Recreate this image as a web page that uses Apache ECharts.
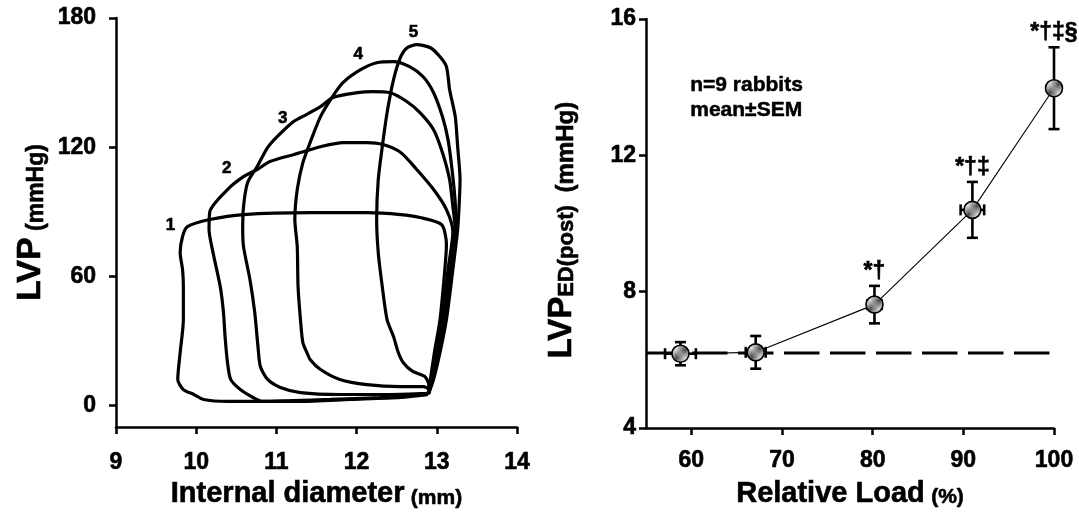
<!DOCTYPE html>
<html><head><meta charset="utf-8">
<script src="https://cdn.jsdelivr.net/npm/echarts@6/dist/echarts.min.js"></script>
<style>html,body{margin:0;padding:0;background:#fff}#c{width:1079px;height:521px}</style>
</head><body><div id="c"></div>
<script>
// ---- Left panel: pressure–diameter loops (x = internal diameter mm, y = LVP mmHg)
const loop1 = [[12.89,5.1],[12.92,12.1],[12.97,24.6],[13.04,39.9],[13.10,63.1],[13.12,74.7],[13.06,84.0],[12.79,87.3],[12.55,88.7],[12.13,89.6],[11.70,89.6],[11.42,89.6],[10.59,88.7],[10.17,86.4],[9.89,83.1],[9.83,78.5],[9.80,71.0],[9.83,63.1],[9.84,55.2],[9.84,39.9],[9.80,24.6],[9.77,12.1],[9.84,7.4],[9.97,5.1],[10.09,2.8],[10.39,1.9],[10.80,1.9],[11.21,2.3],[11.67,2.8],[12.29,3.7],[12.89,5.1]];
const loop2 = [[12.89,5.1],[12.93,12.1],[12.99,24.6],[13.06,39.9],[13.14,63.1],[13.20,80.8],[13.12,91.0],[12.96,100.3],[12.75,109.6],[12.55,117.5],[12.33,121.2],[12.13,122.1],[11.83,122.1],[11.55,120.2],[11.30,117.5],[11.21,116.5],[10.92,113.3],[10.76,109.6],[10.59,106.3],[10.39,100.3],[10.17,90.1],[10.16,81.7],[10.21,71.0],[10.30,55.2],[10.34,43.2],[10.36,32.0],[10.39,20.0],[10.43,12.1],[10.55,7.4],[10.71,3.7],[10.83,1.9],[11.30,1.9],[11.92,2.8],[12.55,3.7],[12.89,5.1]];
const loop3 = [[12.89,5.6],[12.94,12.1],[13.00,24.6],[13.09,39.9],[13.16,63.1],[13.23,81.7],[13.20,92.4],[13.16,104.9],[13.07,117.5],[12.96,128.1],[12.79,136.0],[12.63,141.1],[12.42,145.3],[12.20,145.8],[12.01,145.3],[11.70,143.0],[11.55,138.8],[11.30,133.7],[11.21,131.8],[11.01,124.9],[10.89,119.8],[10.76,111.0],[10.64,103.5],[10.59,92.4],[10.58,81.7],[10.59,73.8],[10.67,58.5],[10.73,43.2],[10.77,27.4],[10.80,18.1],[10.89,12.1],[11.05,8.4],[11.30,6.0],[11.79,5.1],[12.42,5.1],[12.89,5.6]];
const loop4 = [[12.90,5.6],[12.94,12.1],[13.01,24.6],[13.10,39.9],[13.17,63.1],[13.24,81.7],[13.23,94.2],[13.19,109.6],[13.14,123.5],[13.07,134.2],[12.96,145.3],[12.83,152.7],[12.66,157.4],[12.46,159.7],[12.25,159.2],[12.05,156.0],[11.83,150.0],[11.70,143.5],[11.55,134.2],[11.42,122.1],[11.33,112.8],[11.26,100.3],[11.23,86.4],[11.26,73.8],[11.27,55.2],[11.30,39.9],[11.33,29.2],[11.38,24.6],[11.42,21.4],[11.55,16.7],[11.79,12.1],[12.13,9.7],[12.55,8.8],[12.83,8.8],[12.90,7.4],[12.90,5.6]];
const loop5 = [[12.90,5.6],[12.96,12.1],[13.04,24.6],[13.12,39.9],[13.20,63.1],[13.26,81.7],[13.28,94.2],[13.29,104.9],[13.26,120.2],[13.23,134.2],[13.16,146.7],[13.12,157.4],[13.04,162.0],[12.92,166.2],[12.75,167.6],[12.63,166.2],[12.55,162.0],[12.46,151.3],[12.38,136.0],[12.32,120.2],[12.27,104.9],[12.25,86.4],[12.27,71.0],[12.32,55.2],[12.38,39.9],[12.46,32.0],[12.52,24.6],[12.58,20.0],[12.70,15.8],[12.85,13.5],[12.90,9.7],[12.90,5.6]];
const loopNames = ['1','2','3','4','5'];
const loopNameAnchors = [[9.68,83.6],[10.38,110.3],[11.08,133.2],[12.02,162.9],[12.71,173.2]];
const leftXTicks = [9,10,11,12,13,14];
const leftYTicks = [0,60,120,180];

// ---- Right panel: LVP ED(post) vs relative load
const relLoad     = [58.8, 67.1, 80.2, 91.0, 100.0];
const relLoadSem  = [1.7, 1.1, 0.8, 1.3, 0];
const lvpEd       = [6.18, 6.22, 7.62, 10.40, 13.97];
const lvpEdSem    = [0.34, 0.48, 0.55, 0.82, 1.20];
const sigMarks    = ['', '', '*†', '*†‡', '*†‡§'];
const baselineLvp = 6.2;
const baselineLoadRange = [55, 99.5];
const rightXTicks = [60,70,80,90,100];
const rightYTicks = [4,8,12,16];
const noteLines = ['n=9 rabbits', 'mean±SEM'];

const FF = '"Liberation Sans", Arial, Helvetica, sans-serif';
const HEAVY = {textBorderColor:'#000', textBorderWidth:0.6};

function hatchCanvas(){
  const c = document.createElement('canvas'); c.width = 4; c.height = 4;
  const g = c.getContext('2d');
  g.fillStyle = '#d8d8d8'; g.fillRect(0,0,4,4);
  g.strokeStyle = '#444'; g.lineWidth = 1;
  g.beginPath();
  g.moveTo(0,4); g.lineTo(4,0);
  g.moveTo(-1,1); g.lineTo(1,-1);
  g.moveTo(3,5); g.lineTo(5,3);
  g.stroke();
  return c;
}

const chart = echarts.init(document.getElementById('c'), null, {renderer:'canvas'});

const tickLabel = {color:'#000', fontFamily:FF, fontWeight:'bold', fontSize:23, ...HEAVY};
const axisLine = {show:true, onZero:false, lineStyle:{color:'#000', width:2.5}};
const axisTick = {show:true, length:7, lineStyle:{color:'#000', width:2.5}};
const nameStyleBase = {color:'#000', fontFamily:FF, fontWeight:'bold', fontSize:23};
function rs(size, lh){ return {fontSize:size, fontWeight:'bold', fontFamily:FF, color:'#000', lineHeight:lh, verticalAlign:'bottom', ...HEAVY}; }

const option = {
  animation:false,
  backgroundColor:'#fff',
  grid:[
    {left:116, top:18, width:401, height:409},
    {left:646, top:19, width:408, height:409}
  ],
  xAxis:[
    {gridIndex:0, type:'value', min:9, max:14, interval:1,
     axisLine, axisTick:{...axisTick, customValues:leftXTicks}, splitLine:{show:false},
     axisLabel:{...tickLabel, margin:24, customValues:leftXTicks},
     name:'{a|Internal diameter} {b|(mm)}', nameLocation:'middle', nameGap:46,
     nameTextStyle:{...nameStyleBase, rich:{a:rs(29,34), b:rs(21,28)}}},
    {gridIndex:1, type:'value', min:55, max:100,
     axisLine, axisTick:{...axisTick, customValues:rightXTicks}, splitLine:{show:false},
     axisLabel:{...tickLabel, margin:21, customValues:rightXTicks},
     name:'{a|Relative Load} {b|(%)}', nameLocation:'middle', nameGap:46,
     nameTextStyle:{...nameStyleBase, rich:{a:rs(29,34), b:rs(21,28)}}}
  ],
  yAxis:[
    {gridIndex:0, type:'value', min:-10, max:180,
     axisLine, axisTick:{...axisTick, customValues:leftYTicks}, splitLine:{show:false},
     axisLabel:{...tickLabel, margin:20, customValues:leftYTicks},
     name:'{a|LVP} {b|(mmHg)}', nameLocation:'middle', nameGap:68,
     nameTextStyle:{...nameStyleBase, rich:{a:rs(34,40), b:rs(23,34)}}},
    {gridIndex:1, type:'value', min:4, max:16, interval:4,
     axisLine, axisTick, splitLine:{show:false},
     axisLabel:{...tickLabel, margin:10},
     name:'{a|LVP}{s|ED(post)}  {b|(mmHg)}{b|  }', nameLocation:'middle', nameGap:68,
     nameTextStyle:{...nameStyleBase, rich:{a:rs(33,40), s:rs(22,22), b:rs(24,34)}}}
  ],
  graphic: noteLines.map((t,i)=>({
    type:'text', left:690, top:74 + i*25,
    style:{text:t, fill:'#000', font:'bold 21px ' + FF, stroke:'#000', lineWidth:0.5}
  })),
  series:[]
};

const loops = [loop1, loop2, loop3, loop4, loop5];
loops.forEach((d,i)=>{
  option.series.push({
    type:'line', xAxisIndex:0, yAxisIndex:0, data:d, showSymbol:false, smooth:0.25,
    lineStyle:{color:'#000', width:3.2}, z:2, silent:true
  });
});
option.series.push({
  type:'scatter', xAxisIndex:0, yAxisIndex:0, symbolSize:0, silent:true, z:4,
  itemStyle:{opacity:1},
  data: loopNameAnchors.map((p,i)=>({value:p, name:loopNames[i]})),
  label:{show:true, position:'inside', formatter:p=>p.name, color:'#000', fontFamily:FF, fontWeight:'bold', fontSize:17, ...HEAVY}
});

// right panel
option.series.push({
  type:'line', xAxisIndex:1, yAxisIndex:1, showSymbol:false, silent:true, z:1,
  data: baselineLoadRange.map(x=>[x, baselineLvp]),
  lineStyle:{color:'#000', width:3, type:[35.5,10.5], dashOffset:0}
});
option.series.push({
  type:'line', xAxisIndex:1, yAxisIndex:1, showSymbol:false, silent:true, z:2,
  data: relLoad.map((x,i)=>[x, lvpEd[i]]),
  lineStyle:{color:'#000', width:1.1}
});
option.series.push({
  type:'custom', xAxisIndex:1, yAxisIndex:1, silent:true, z:3,
  data: relLoad.map((x,i)=>[x, lvpEd[i], relLoadSem[i], lvpEdSem[i]]),
  renderItem:(params, api)=>{
    const x=api.value(0), y=api.value(1), sx=api.value(2), sy=api.value(3);
    const c=api.coord([x,y]);
    const st={stroke:'#000', lineWidth:2.6};
    const ch=[];
    const cap=5.5;
    if(sy>0){
      const t=api.coord([x,y+sy]), b=api.coord([x,y-sy]);
      ch.push({type:'line', shape:{x1:c[0],y1:t[1],x2:c[0],y2:b[1]}, style:st});
      ch.push({type:'line', shape:{x1:c[0]-cap,y1:t[1],x2:c[0]+cap,y2:t[1]}, style:st});
      ch.push({type:'line', shape:{x1:c[0]-cap,y1:b[1],x2:c[0]+cap,y2:b[1]}, style:st});
    }
    if(sx>0){
      const l=api.coord([x-sx,y]), r=api.coord([x+sx,y]);
      ch.push({type:'line', shape:{x1:l[0],y1:c[1],x2:r[0],y2:c[1]}, style:st});
      ch.push({type:'line', shape:{x1:l[0],y1:c[1]-cap,x2:l[0],y2:c[1]+cap}, style:st});
      ch.push({type:'line', shape:{x1:r[0],y1:c[1]-cap,x2:r[0],y2:c[1]+cap}, style:st});
    }
    return {type:'group', children:ch};
  }
});
option.series.push({
  type:'scatter', xAxisIndex:1, yAxisIndex:1, silent:true, z:5,
  data: relLoad.map((x,i)=>[x, lvpEd[i]]),
  symbol:'circle', symbolSize:17,
  itemStyle:{color:{image:hatchCanvas(), repeat:'repeat'}, borderColor:'#000', borderWidth:1.6, opacity:1}
});
option.series.push({
  type:'scatter', xAxisIndex:1, yAxisIndex:1, silent:true, z:6, symbolSize:0,
  itemStyle:{opacity:1},
  data: relLoad.map((x,i)=>({value:[x, lvpEd[i]+lvpEdSem[i]], name:sigMarks[i]})).filter(d=>d.name),
  label:{show:true, position:'top', distance:3, formatter:p=>p.name, color:'#000', fontFamily:FF, fontWeight:'bold', fontSize:23, ...HEAVY}
});

chart.setOption(option);
</script>
</body></html>
